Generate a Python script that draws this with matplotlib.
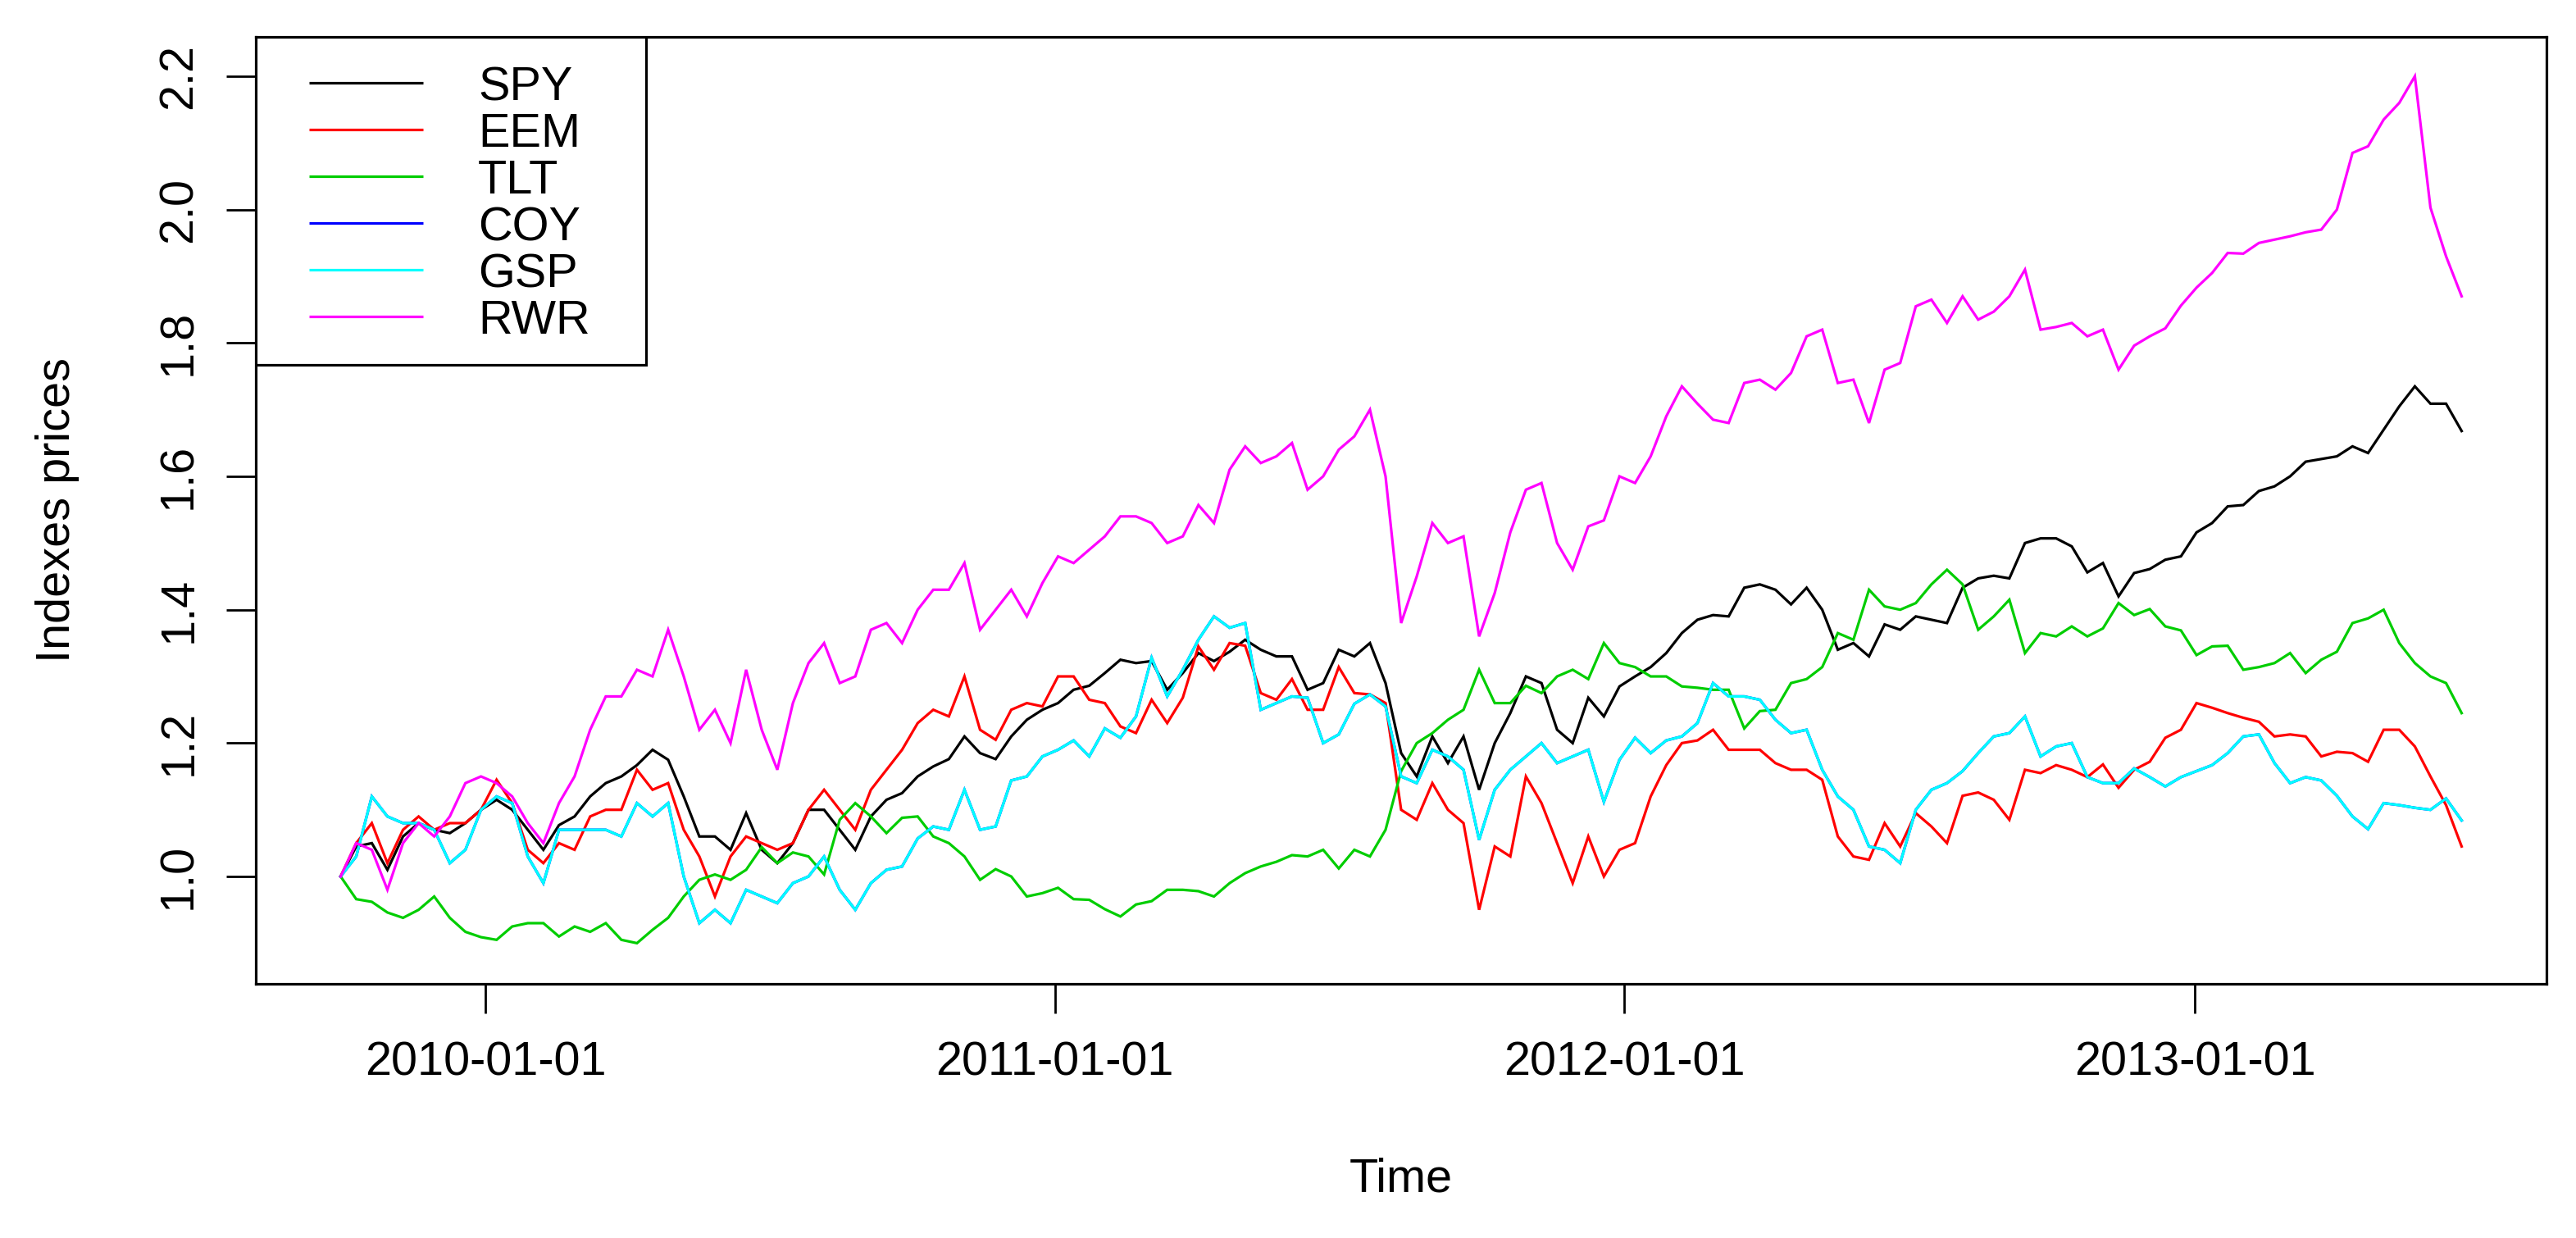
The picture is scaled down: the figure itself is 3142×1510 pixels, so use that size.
import matplotlib
matplotlib.use("Agg")
import matplotlib.pyplot as plt
import pandas as pd

plt.rcParams['font.family'] = ['Liberation Sans', 'DejaVu Sans']

# sampling of the series (read every 10 days off the picture)
start_date = '2009-09-30'
step = '10D'

spy = [1.00, 1.045, 1.05, 1.01, 1.06, 1.08, 1.07, 1.065, 1.08, 1.10,
       1.115, 1.10, 1.07, 1.04, 1.077, 1.09, 1.12, 1.14, 1.15, 1.167,
       1.19, 1.175, 1.12, 1.06, 1.06, 1.04, 1.095, 1.04, 1.02, 1.05,
       1.10, 1.10, 1.07, 1.04, 1.09, 1.115, 1.125, 1.15, 1.165, 1.176,
       1.21, 1.185, 1.176, 1.21, 1.235, 1.25, 1.26, 1.28, 1.286, 1.305,
       1.325, 1.32, 1.323, 1.28, 1.305, 1.335, 1.323, 1.337, 1.355, 1.34,
       1.33, 1.33, 1.28, 1.29, 1.34, 1.33, 1.35, 1.29, 1.185, 1.15,
       1.21, 1.17, 1.21, 1.13, 1.20, 1.245, 1.30, 1.29, 1.22, 1.20,
       1.268, 1.24, 1.285, 1.30, 1.314, 1.335, 1.365, 1.385, 1.392, 1.39,
       1.433, 1.438, 1.43, 1.408, 1.433, 1.40, 1.34, 1.35, 1.33, 1.378,
       1.37, 1.39, 1.385, 1.38, 1.433, 1.447, 1.451, 1.447, 1.50, 1.507,
       1.507, 1.495, 1.456, 1.47, 1.42, 1.455, 1.461, 1.475, 1.48, 1.516,
       1.53, 1.555, 1.557, 1.578, 1.585, 1.60, 1.622, 1.626, 1.63, 1.645,
       1.635, 1.67, 1.705, 1.735, 1.709, 1.709, 1.668]

eem = [1.00, 1.05, 1.08, 1.02, 1.07, 1.09, 1.07, 1.08, 1.08, 1.10,
       1.145, 1.11, 1.04, 1.02, 1.05, 1.04, 1.09, 1.10, 1.10, 1.16,
       1.13, 1.14, 1.07, 1.03, 0.97, 1.03, 1.06, 1.05, 1.04, 1.05,
       1.10, 1.13, 1.10, 1.07, 1.13, 1.16, 1.19, 1.23, 1.25, 1.24,
       1.30, 1.22, 1.205, 1.25, 1.26, 1.255, 1.30, 1.30, 1.265, 1.26,
       1.225, 1.215, 1.265, 1.23, 1.268, 1.345, 1.31, 1.35, 1.346, 1.275,
       1.265, 1.296, 1.25, 1.25, 1.314, 1.275, 1.273, 1.26, 1.10, 1.085,
       1.14, 1.10, 1.08, 0.95, 1.045, 1.03, 1.15, 1.11, 1.05, 0.99,
       1.06, 1.00, 1.04, 1.05, 1.12, 1.167, 1.20, 1.204, 1.22, 1.19,
       1.19, 1.19, 1.17, 1.16, 1.16, 1.145, 1.06, 1.03, 1.025, 1.08,
       1.045, 1.095, 1.075, 1.05, 1.121, 1.126, 1.115, 1.085, 1.16, 1.155,
       1.167, 1.16, 1.149, 1.168, 1.133, 1.16, 1.172, 1.208, 1.22, 1.26,
       1.253, 1.245, 1.238, 1.232, 1.21, 1.213, 1.21, 1.18, 1.187, 1.185,
       1.172, 1.22, 1.22, 1.195, 1.15, 1.107, 1.045]

tlt = [1.00, 0.966, 0.962, 0.946, 0.938, 0.95, 0.97, 0.938, 0.917, 0.909,
       0.905, 0.925, 0.93, 0.93, 0.91, 0.925, 0.917, 0.93, 0.905, 0.90,
       0.92, 0.938, 0.97, 0.995, 1.003, 0.995, 1.01, 1.044, 1.02, 1.036,
       1.03, 1.003, 1.085, 1.11, 1.09, 1.065, 1.088, 1.09, 1.06, 1.05,
       1.03, 0.995, 1.011, 1.00, 0.97, 0.975, 0.983, 0.966, 0.965, 0.951,
       0.94, 0.958, 0.963, 0.98, 0.98, 0.978, 0.97, 0.99, 1.005, 1.015,
       1.022, 1.032, 1.03, 1.04, 1.012, 1.04, 1.03, 1.07, 1.158, 1.20,
       1.215, 1.235, 1.25, 1.31, 1.26, 1.26, 1.286, 1.275, 1.30, 1.31,
       1.296, 1.35, 1.32, 1.314, 1.30, 1.30, 1.285, 1.283, 1.28, 1.28,
       1.222, 1.248, 1.25, 1.29, 1.296, 1.314, 1.365, 1.355, 1.43, 1.405,
       1.40, 1.41, 1.438, 1.46, 1.438, 1.37, 1.39, 1.415, 1.335, 1.365,
       1.36, 1.375, 1.36, 1.372, 1.41, 1.392, 1.401, 1.375, 1.369, 1.332,
       1.345, 1.346, 1.31, 1.314, 1.32, 1.335, 1.305, 1.325, 1.337, 1.38,
       1.387, 1.40, 1.35, 1.32, 1.30, 1.29, 1.245]

gsp = [1.00, 1.03, 1.12, 1.09, 1.08, 1.08, 1.07, 1.02, 1.04, 1.10,
       1.12, 1.11, 1.03, 0.99, 1.07, 1.07, 1.07, 1.07, 1.06, 1.11,
       1.09, 1.11, 1.00, 0.93, 0.95, 0.93, 0.98, 0.97, 0.96, 0.99,
       1.00, 1.03, 0.98, 0.95, 0.99, 1.01, 1.015, 1.057, 1.075, 1.07,
       1.13, 1.07, 1.075, 1.144, 1.15, 1.18, 1.19, 1.204, 1.18, 1.222,
       1.208, 1.24, 1.328, 1.27, 1.31, 1.355, 1.39, 1.373, 1.38, 1.25,
       1.26, 1.27, 1.268, 1.20, 1.213, 1.259, 1.273, 1.255, 1.15, 1.14,
       1.19, 1.18, 1.16, 1.055, 1.13, 1.16, 1.18, 1.20, 1.17, 1.18,
       1.19, 1.112, 1.175, 1.208, 1.185, 1.204, 1.21, 1.23, 1.29, 1.27,
       1.27, 1.265, 1.235, 1.215, 1.22, 1.16, 1.12, 1.10, 1.045, 1.04,
       1.02, 1.10, 1.13, 1.14, 1.158, 1.185, 1.21, 1.215, 1.24, 1.18,
       1.195, 1.20, 1.149, 1.14, 1.14, 1.162, 1.149, 1.135, 1.149, 1.158,
       1.167, 1.185, 1.21, 1.213, 1.17, 1.14, 1.149, 1.144, 1.121, 1.09,
       1.071, 1.11, 1.107, 1.103, 1.10, 1.117, 1.084]

# the blue COY line never shows in the reference: it lies under GSP
coy = gsp

rwr = [1.00, 1.05, 1.04, 0.98, 1.05, 1.08, 1.06, 1.09, 1.14, 1.15,
       1.14, 1.12, 1.08, 1.05, 1.11, 1.15, 1.22, 1.27, 1.27, 1.31,
       1.30, 1.37, 1.30, 1.22, 1.25, 1.20, 1.31, 1.22, 1.16, 1.26,
       1.32, 1.35, 1.29, 1.30, 1.37, 1.38, 1.35, 1.40, 1.43, 1.43,
       1.47, 1.37, 1.40, 1.43, 1.39, 1.44, 1.48, 1.47, 1.49, 1.51,
       1.54, 1.54, 1.53, 1.50, 1.51, 1.557, 1.53, 1.61, 1.645, 1.62,
       1.63, 1.65, 1.58, 1.60, 1.64, 1.66, 1.70, 1.60, 1.38, 1.45,
       1.53, 1.50, 1.51, 1.36, 1.425, 1.516, 1.58, 1.59, 1.50, 1.46,
       1.525, 1.534, 1.60, 1.59, 1.63, 1.69, 1.735, 1.709, 1.685, 1.68,
       1.74, 1.745, 1.73, 1.755, 1.81, 1.82, 1.74, 1.745, 1.68, 1.76,
       1.77, 1.855, 1.865, 1.83, 1.87, 1.835, 1.847, 1.87, 1.91, 1.82,
       1.824, 1.83, 1.81, 1.82, 1.76, 1.796, 1.81, 1.822, 1.856, 1.883,
       1.905, 1.935, 1.934, 1.95, 1.955, 1.96, 1.966, 1.97, 2.00, 2.085,
       2.095, 2.135, 2.16, 2.20, 2.003, 1.93, 1.87]

names = ['SPY', 'EEM', 'TLT', 'COY', 'GSP', 'RWR']
colors = ['black', '#FF0000', '#00CD00', '#0000FF', '#00FFFF', '#FF00FF']
series = [spy, eem, tlt, coy, gsp, rwr]

year_ticks = ['2010-01-01', '2011-01-01', '2012-01-01', '2013-01-01']
y_ticks = [1.0, 1.2, 1.4, 1.6, 1.8, 2.0, 2.2]

dates = pd.date_range(start_date, periods=len(spy), freq=step)

W, H = 3142, 1510
L, R, T, B = 312, 3106, 45, 1200   # plot box in pixels
fig = plt.figure(figsize=(W / 100, H / 100), dpi=100)
ax = fig.add_axes([L / W, 1 - B / H, (R - L) / W, (B - T) / H])

lw = 2.3
for vals, c in zip(series, colors):
    ax.plot(dates, vals, color=c, linewidth=lw, solid_joinstyle='miter')

# R style 4% padding on the time axis
span = dates[-1] - dates[0]
ax.set_xlim(dates[0] - 0.04 * span, dates[-1] + 0.04 * span)
ax.set_ylim(0.839, 2.259)

fs = 41.5
ax.set_xticks(pd.to_datetime(year_ticks))
ax.set_xticklabels(year_ticks, fontsize=fs)
ax.set_yticks(y_ticks)
ax.set_yticklabels([f'{v:.1f}' for v in y_ticks], fontsize=fs, rotation=90, va='center')
ax.tick_params(axis='x', direction='out', length=26, width=2.0, pad=24)
ax.tick_params(axis='y', direction='out', length=26, width=2.0, pad=22)
for sp in ax.spines.values():
    sp.set_linewidth(lw)

ax.set_xlabel('Time', fontsize=fs)
ax.xaxis.set_label_coords(0.5, -(1412 - B) / (B - T))
ax.set_ylabel('Indexes prices', fontsize=fs)
ax.yaxis.set_label_coords(-(L - 97) / (R - L), 0.5)

# legend box drawn the way R lays it out (axes fractions from the picture)
ax_w, ax_h = R - L, B - T
box = plt.Rectangle((0, 1 - 400 / ax_h), (788 - L) / ax_w, 400 / ax_h,
                    transform=ax.transAxes, fill=True, facecolor='white',
                    edgecolor='black', linewidth=lw, zorder=5)
ax.add_patch(box)
for k, (name, c) in enumerate(zip(names, colors)):
    yl = 1 - (101 + 56.9 * k - T) / ax_h
    ax.plot([(377 - L) / ax_w, (516 - L) / ax_w], [yl, yl], color=c,
            linewidth=lw, transform=ax.transAxes, zorder=6, solid_capstyle='butt')
    ax.text((583 - L) / ax_w, yl - 21.5 / ax_h, name, fontsize=fs,
            transform=ax.transAxes, va='baseline', ha='left', zorder=6)

fig.savefig('out.png', dpi=100)
